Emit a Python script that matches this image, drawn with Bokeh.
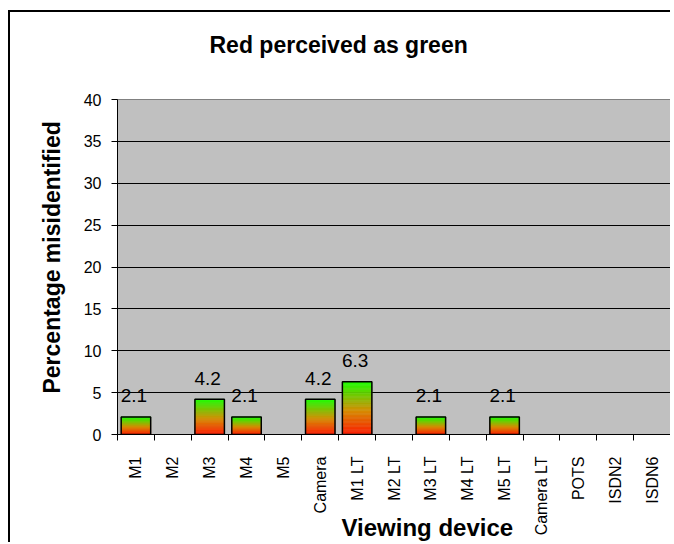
import math
from bokeh.plotting import figure
from bokeh.models import Range1d, FixedTicker, ColumnDataSource, Title
from bokeh.core.properties import value
from bokeh.embed import file_html
from bokeh.resources import INLINE

# ---- data ----
categories = ["M1", "M2", "M3", "M4", "M5", "Camera", "M1 LT", "M2 LT", "M3 LT",
              "M4 LT", "M5 LT", "Camera LT", "POTS", "ISDN2", "ISDN6"]
values = [2.1, 0, 4.2, 2.1, 0, 4.2, 6.3, 0, 2.1, 0, 2.1, 0, 0, 0, 0]
y_ticks = [0, 5, 10, 15, 20, 25, 30, 35, 40]
title_text = "Red perceived as green"
x_title = "Viewing device"
y_title = "Percentage misidentified"

FONT = "Liberation Sans"
n = len(categories)
centers = list(range(n))
bounds = [i - 0.5 for i in range(n + 1)]

p = figure(width=662, height=532, output_backend="svg", toolbar_location=None,
           title=None,
           x_range=Range1d(-0.5, n - 0.5), y_range=Range1d(0, 40),
           min_border_left=107, min_border_right=2, min_border_top=87,
           min_border_bottom=102)
p.styles = {"margin-left": "8px", "margin-top": "10px",
            "border-left": "2px solid black", "border-top": "2px solid black"}
p.background_fill_color = "#C0C0C0"
p.border_fill_color = "white"
p.outline_line_color = "#808080"
p.outline_line_width = 1

# spacer (closest to frame) then the real title above it
p.add_layout(Title(text=" ", text_font_size="2px", standoff=38), "above")
p.add_layout(Title(text=title_text, align="left", offset=92, text_font=FONT,
                   text_font_size="23px", text_font_style="bold",
                   text_color="black", standoff=0), "above")

# gradient helper: red at bottom -> orange -> green at top
stops = [(0.0, (255, 25, 0)), (0.45, (215, 140, 0)), (1.0, (30, 255, 0))]


def grad(t):
    for (t0, c0), (t1, c1) in zip(stops[:-1], stops[1:]):
        if t <= t1:
            f = (t - t0) / (t1 - t0) if t1 > t0 else 0
            return "#%02x%02x%02x" % tuple(int(round(a + (b - a) * f)) for a, b in zip(c0, c1))
    return "#%02x%02x%02x" % stops[-1][1]


NSEG = 40
seg = dict(x=[], bottom=[], top=[], color=[])
for i, v in enumerate(values):
    if v <= 0:
        continue
    for k in range(NSEG):
        seg["x"].append(i)
        seg["bottom"].append(v * k / NSEG)
        seg["top"].append(v * (k + 1) / NSEG)
        seg["color"].append(grad((k + 0.5) / NSEG))

p.vbar(x="x", bottom="bottom", top="top", width=0.8, fill_color="color",
       line_color="color", line_width=0.5, source=ColumnDataSource(seg))

nz = [(i, v) for i, v in enumerate(values) if v > 0]
outline = ColumnDataSource(dict(x=[i for i, _ in nz], top=[v for _, v in nz],
                                lab=["%.1f" % v for _, v in nz]))
p.vbar(x="x", top="top", bottom=0, width=0.8, fill_color=None,
       line_color="black", line_width=1.5, source=outline)

p.text(x="x", y="top", text="lab", source=outline, text_align="center",
       text_baseline="alphabetic", y_offset=-21, x_offset=-2,
       text_font=value(FONT), text_font_size=value("19px"), text_color="black")

# grid
p.xgrid.grid_line_color = None
p.ygrid.grid_line_color = "black"
p.ygrid.grid_line_width = 1
p.ygrid.ticker = FixedTicker(ticks=y_ticks)

# y axis
p.yaxis.ticker = FixedTicker(ticks=y_ticks)
p.yaxis.major_tick_out = 6
p.yaxis.major_tick_in = 0
p.yaxis.minor_tick_line_color = None
p.yaxis.major_label_standoff = 10
p.yaxis.major_label_text_font = FONT
p.yaxis.major_label_text_font_size = "16px"
p.yaxis.major_label_text_color = "black"
p.yaxis.axis_line_color = "black"
p.yaxis.major_tick_line_color = "black"
p.yaxis.axis_label = "\u00a0" * 3 + y_title
p.yaxis.axis_label_text_font = FONT
p.yaxis.axis_label_text_font_size = "23px"
p.yaxis.axis_label_text_font_style = "bold"
p.yaxis.axis_label_text_color = "black"
p.yaxis.axis_label_standoff = 16

# x axis: labels at centers, ticks at category boundaries (minor ticks)
p.xaxis.ticker = FixedTicker(ticks=centers, minor_ticks=bounds)
p.xaxis.major_label_overrides = {i: c for i, c in enumerate(categories)}
p.xaxis.major_tick_out = 0
p.xaxis.major_tick_in = 0
p.xaxis.minor_tick_out = 6
p.xaxis.minor_tick_in = 0
p.xaxis.minor_tick_line_color = "black"
p.xaxis.major_label_orientation = math.pi / 2
p.xaxis.major_label_standoff = 16
p.xaxis.major_label_text_font = FONT
p.xaxis.major_label_text_font_size = "16px"
p.xaxis.major_label_text_color = "black"
p.xaxis.axis_line_color = "black"
p.xaxis.axis_label = "\u00a0" * 10 + x_title
p.xaxis.axis_label_text_font = FONT
p.xaxis.axis_label_text_font_size = "24px"
p.xaxis.axis_label_text_font_style = "bold"
p.xaxis.axis_label_text_color = "black"
p.xaxis.axis_label_standoff = -24

open("out.html", "w").write(file_html(p, INLINE))
